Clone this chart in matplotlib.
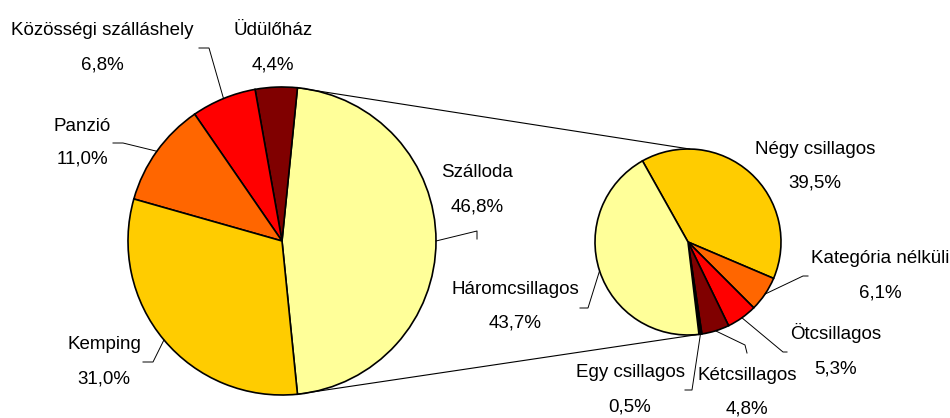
import numpy as np
import matplotlib
matplotlib.use('Agg')
import matplotlib.pyplot as plt

# main pie (accommodation types, %)
main_labels = ['Szálloda', 'Üdülőház', 'Közösségi szálláshely', 'Panzió', 'Kemping']
main_values = [46.8, 4.4, 6.8, 11.0, 31.0]
main_colors = ['#FFFF99', '#800000', '#FF0000', '#FF6600', '#FFCC00']

# second pie (hotels by category, %)
sub_labels = ['Négy csillagos', 'Kategória nélküli', 'Ötcsillagos', 'Kétcsillagos', 'Egy csillagos', 'Háromcsillagos']
sub_values = [39.5, 6.1, 5.3, 4.8, 0.5, 43.7]
sub_colors = ['#FFCC00', '#FF6600', '#FF0000', '#800000', '#000000', '#FFFF99']

W, H = 950, 418
plt.rcParams['font.family'] = ['Liberation Sans', 'DejaVu Sans']
FS = 13.5


def fmt(v):
    return ('%.1f%%' % v).replace('.', ',')


fig = plt.figure(figsize=(W / 100, H / 100), dpi=100)
ax = fig.add_axes([0, 0, 1, 1])

edge = dict(edgecolor='black', linewidth=1.2)
main_wedges, _ = ax.pie(main_values, colors=main_colors, center=(282, H - 241), radius=154,
                        startangle=-main_values[0] * 3.6 / 2, counterclock=True,
                        wedgeprops=edge)
sub_wedges, _ = ax.pie(sub_values, colors=sub_colors, center=(688, H - 242), radius=93,
                       startangle=119.3, counterclock=False, wedgeprops=edge)

ax.set_xlim(0, W)
ax.set_ylim(0, H)
ax.set_aspect('equal')
ax.axis('off')


def edge_point(w, ang):
    cx, cy = w.center
    a = np.deg2rad(ang)
    return cx + w.r * np.cos(a), cy + w.r * np.sin(a)


# connector lines between the Szálloda wedge and the second pie
hot = main_wedges[0]
for a_main, a_sub in [(hot.theta2, 89), (hot.theta1, -83.5)]:
    x0, y0 = edge_point(hot, a_main)
    x1, y1 = edge_point(sub_wedges[0], a_sub)
    ax.plot([x0, x1], [y0, y1], color='black', lw=0.8)

# label layout: (x centre, baseline 1, baseline 2, elbow points of leader line)
main_layout = {
    'Szálloda': (477, 177, 211, [(477, 231), (477, 239)]),
    'Üdülőház': (273, 35, 69, None),
    'Közösségi szálláshely': (102, 35, 69, [(209, 48), (199, 48)]),
    'Panzió': (82, 131, 164, [(123, 143), (113, 143)]),
    'Kemping': (104, 349, 383, [(153, 362), (143, 362)]),
}
sub_layout = {
    'Négy csillagos': (815, 154, 188, None),
    'Kategória nélküli': (880, 263, 298, [(803, 276), (808, 276)]),
    'Ötcsillagos': (836, 339, 374, [(783, 352), (787, 352)]),
    'Kétcsillagos': (747, 380, 414, [(745, 345), (747, 353)]),
    'Egy csillagos': (630, 377, 411, [(692, 390), (685, 390)]),
    'Háromcsillagos': (515, 294, 328, [(588, 308), (580, 308)]),
}


def draw_labels(wedges, labels, values, layout):
    for w, lab, v in zip(wedges, labels, values):
        x, b1, b2, elbow = layout[lab]
        ax.text(x, H - b1, lab, ha='center', va='baseline', fontsize=FS, color='black')
        ax.text(x, H - b2, fmt(v), ha='center', va='baseline', fontsize=FS, color='black')
        if elbow:
            mid = (w.theta1 + w.theta2) / 2
            px, py = edge_point(w, mid)
            xs = [px] + [e[0] for e in elbow]
            ys = [py] + [H - e[1] for e in elbow]
            ax.plot(xs, ys, color='black', lw=0.7)


draw_labels(main_wedges, main_labels, main_values, main_layout)
draw_labels(sub_wedges, sub_labels, sub_values, sub_layout)

fig.savefig('out.png', dpi=100, facecolor='white')
